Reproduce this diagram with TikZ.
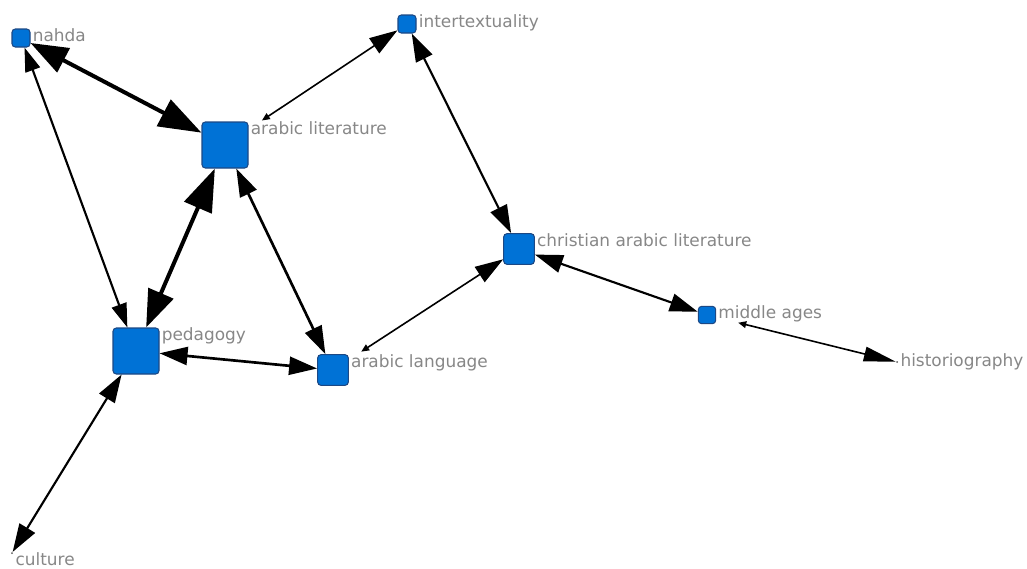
\documentclass[tikz,border=0pt]{standalone}
\usepackage{fontspec}
\setmainfont{DejaVu Sans}
\usetikzlibrary{arrows.meta}

\definecolor{nodeblue}{RGB}{0,114,214}
\definecolor{nodeedge}{RGB}{28,72,132}
\definecolor{labelgray}{RGB}{135,135,135}

\begin{document}
\begin{tikzpicture}[x=0.75pt,y=-0.75pt,
    keyword/.style={rectangle,rounded corners=2.5pt,draw=nodeedge,fill=nodeblue,line width=0.8pt,inner sep=0pt,minimum size=#1},
    endpoint/.style={circle,fill=black!65,inner sep=0pt,minimum size=1.5pt},
    lbl/.style={anchor=north west,inner xsep=1.5pt,inner ysep=0pt,text=labelgray,font=\fontsize{12.7pt}{15pt}\selectfont},
    link/.style={draw=black,line width=#1},
    huge/.tip={Triangle[length=32pt,width=22pt]},
    big/.tip={Triangle[length=28pt,width=20pt]},
    mid/.tip={Triangle[length=21pt,width=13.5pt]},
    small/.tip={Triangle[length=18pt,width=11.5pt]},
    tiny/.tip={Triangle[length=6pt,width=5pt]}]
    \useasboundingbox (0,0) rectangle (1027,568);

    % keywords
    \node[keyword=13.5pt,label={[lbl]north east:nahda}] (nahda) at (21,38) {};
    \node[keyword=13.5pt,label={[lbl]north east:intertextuality}] (intertext) at (407,24) {};
    \node[keyword=34.5pt,label={[lbl]north east:arabic literature}] (arablit) at (225,145) {};
    \node[keyword=23pt,label={[lbl]north east:christian arabic literature}] (christian) at (519,249) {};
    \node[keyword=13pt,label={[lbl]north east:middle ages}] (middle) at (707,315) {};
    \node[keyword=34.5pt,label={[lbl]north east:pedagogy}] (pedagogy) at (136,351) {};
    \node[keyword=23pt,label={[lbl]north east:arabic language}] (arablang) at (333,370) {};
    \node[endpoint,label={[lbl,anchor=west,yshift=-4.5pt]east:culture}] (culture) at (12,553) {};
    \node[endpoint,label={[lbl,anchor=west]east:historiography}] (histo) at (897,362) {};

    % links
    \draw[link=3pt,{big}-{huge}] (nahda) -- (arablit);
    \draw[link=1.6pt,{small}-{small}] (nahda) -- (pedagogy);
    \draw[link=3pt,{huge}-{big}] (arablit) -- (pedagogy);
    \draw[link=2pt,{mid}-{mid}] (arablit) -- (arablang);
    \draw[link=1.2pt,{tiny}-{mid},shorten <=12pt] (arablit) -- (intertext);
    \draw[link=1.6pt,{mid}-{mid}] (intertext) -- (christian);
    \draw[link=1.2pt,{tiny}-{mid},shorten <=11pt] (arablang) -- (christian);
    \draw[link=2pt,{mid}-{mid}] (pedagogy) -- (arablang);
    \draw[link=1.6pt,{mid}-{mid}] (christian) -- (middle);
    \draw[link=1.2pt,{tiny}-{Triangle[length=24pt,width=11pt]},shorten <=17pt] (middle) -- (histo);
    \draw[link=1.6pt,{mid}-{mid}] (pedagogy) -- (culture);
\end{tikzpicture}
\end{document}
